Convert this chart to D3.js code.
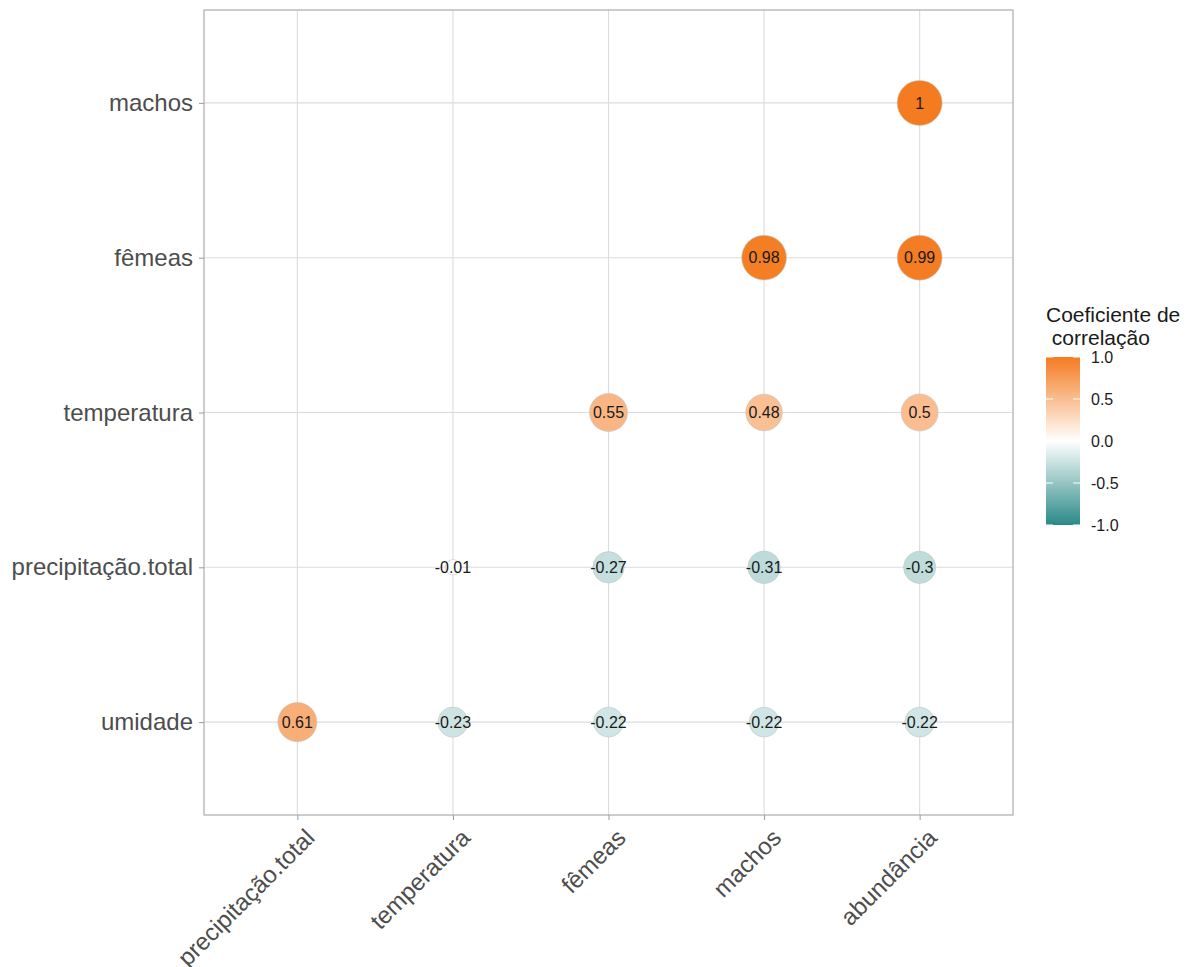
<!DOCTYPE html>
<html>
<head>
<meta charset="utf-8">
<script src="https://cdn.jsdelivr.net/npm/d3@7"></script>
<style>
  body { margin: 0; background: #fff; }
  svg { display: block; font-family: "Liberation Sans", Arial, sans-serif; }
</style>
</head>
<body>
<svg id="chart" width="1197" height="967"></svg>
<script>
// ---- data ----
const xVars = ["precipitação.total", "temperatura", "fêmeas", "machos", "abundância"];
const yVars = ["machos", "fêmeas", "temperatura", "precipitação.total", "umidade"];
// correlation values per row (yVars), columns follow xVars; null = not shown
const rowMachos       = [null, null, null, null, 1];
const rowFemeas       = [null, null, null, 0.98, 0.99];
const rowTemperatura  = [null, null, 0.55, 0.48, 0.5];
const rowPrecipitacao = [null, -0.01, -0.27, -0.31, -0.3];
const rowUmidade      = [0.61, -0.23, -0.22, -0.22, -0.22];
const legendTicks = [1.0, 0.5, 0.0, -0.5, -1.0];
const legendTickLabels = ["1.0", "0.5", "0.0", "-0.5", "-1.0"];
const legendTitle = ["Coeficiente de", " correlação"];

const rows = [rowMachos, rowFemeas, rowTemperatura, rowPrecipitacao, rowUmidade];
const cells = [];
rows.forEach((r, i) => r.forEach((v, j) => {
  if (v !== null) cells.push({ x: xVars[j], y: yVars[i], v });
}));

const svg = d3.select("#chart");
const panel = { left: 204, right: 1013, top: 10, bottom: 815 };

const x = d3.scalePoint().domain(xVars).range([panel.left, panel.right]).padding(0.6);
const y = d3.scalePoint().domain(yVars).range([panel.top, panel.bottom]).padding(0.6);
const color = d3.scaleLinear().domain([-1, 0, 1]).range(["#2a8a87", "#ffffff", "#f47b20"]);
const radius = d3.scalePow().exponent(0.35).domain([0, 1]).range([4, 22.5]);

// grid
const g = svg.append("g");
g.selectAll(".vgrid").data(xVars).join("line")
  .attr("x1", d => x(d)).attr("x2", d => x(d))
  .attr("y1", panel.top).attr("y2", panel.bottom)
  .attr("stroke", "#dcdcdc").attr("stroke-width", 1.1);
g.selectAll(".hgrid").data(yVars).join("line")
  .attr("x1", panel.left).attr("x2", panel.right)
  .attr("y1", d => y(d)).attr("y2", d => y(d))
  .attr("stroke", "#dcdcdc").attr("stroke-width", 1.1);

// panel border
g.append("rect")
  .attr("x", panel.left).attr("y", panel.top)
  .attr("width", panel.right - panel.left).attr("height", panel.bottom - panel.top)
  .attr("fill", "none").attr("stroke", "#b3b3b3").attr("stroke-width", 1.3);

// axes
const yAxis = d3.axisLeft(y).tickSize(5).tickPadding(6);
const yg = svg.append("g").attr("transform", `translate(${panel.left},0)`).call(yAxis);
yg.select(".domain").remove();
yg.selectAll(".tick line").attr("stroke", "#9a9a9a");
yg.selectAll(".tick text").attr("font-size", 24).attr("fill", "#4d4d4d")
  .attr("font-family", "Liberation Sans, Arial, sans-serif");

const xAxis = d3.axisBottom(x).tickSize(5);
const xg = svg.append("g").attr("transform", `translate(0,${panel.bottom})`).call(xAxis);
xg.select(".domain").remove();
xg.selectAll(".tick line").attr("stroke", "#9a9a9a");
xg.selectAll(".tick text")
  .attr("font-size", 24).attr("fill", "#4d4d4d")
  .attr("font-family", "Liberation Sans, Arial, sans-serif")
  .attr("text-anchor", "end")
  .attr("y", 0).attr("dy", "0.72em")
  .attr("transform", "translate(6,12) rotate(-45)");

// circles
const cg = svg.append("g");
cg.selectAll("circle").data(cells).join("circle")
  .attr("cx", d => x(d.x)).attr("cy", d => y(d.y))
  .attr("r", d => radius(Math.abs(d.v)))
  .attr("fill", d => color(d.v))
  .attr("stroke", "#c4c4c4").attr("stroke-width", 0.6);
cg.selectAll("text").data(cells).join("text")
  .attr("x", d => x(d.x)).attr("y", d => y(d.y))
  .attr("dy", "0.36em").attr("text-anchor", "middle")
  .attr("font-size", 16).attr("fill", "#1a1a1a")
  .text(d => String(d.v));

// legend
const lg = svg.append("g");
const barX = 1046, barW = 34;
const ly = d3.scaleLinear().domain([1, -1]).range([357, 525]);
const defs = svg.append("defs");
const grad = defs.append("linearGradient").attr("id", "cgrad")
  .attr("x1", 0).attr("x2", 0).attr("y1", 0).attr("y2", 1);
d3.range(0, 1.0001, 0.05).forEach(t => {
  grad.append("stop").attr("offset", t).attr("stop-color", color(1 - 2 * t));
});
lg.append("rect").attr("x", barX).attr("y", ly(1)).attr("width", barW)
  .attr("height", ly(-1) - ly(1)).attr("fill", "url(#cgrad)");
lg.selectAll(".lt").data(legendTicks).join("g").each(function(d, i) {
  const s = d3.select(this);
  s.append("line").attr("x1", barX).attr("x2", barX + 7)
    .attr("y1", ly(d)).attr("y2", ly(d)).attr("stroke", "#fff").attr("stroke-width", 1);
  s.append("line").attr("x1", barX + barW - 7).attr("x2", barX + barW)
    .attr("y1", ly(d)).attr("y2", ly(d)).attr("stroke", "#fff").attr("stroke-width", 1);
  s.append("text").attr("x", 1091).attr("y", ly(d)).attr("dy", "0.36em")
    .attr("font-size", 16).attr("fill", "#1a1a1a").text(legendTickLabels[i]);
});
lg.selectAll(".ttl").data(legendTitle).join("text")
  .attr("x", 1046).attr("y", (d, i) => 322 + i * 23)
  .attr("font-size", 21).attr("fill", "#1a1a1a")
  .attr("xml:space", "preserve").style("white-space", "pre")
  .text(d => d);
</script>
</body>
</html>
